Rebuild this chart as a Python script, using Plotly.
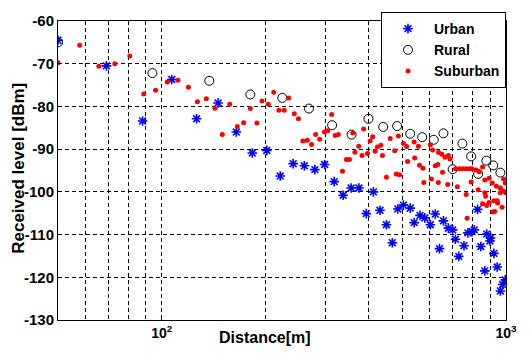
import plotly.graph_objects as go

# ---------------- data ----------------
urban_dist = [50, 69.1, 88, 107, 126.3, 145.8, 164.7, 183.3, 202, 221, 241, 259.6, 278.5,
              297.3, 317, 336.5, 355, 374, 392.8, 412, 430.5, 449.6, 467.6, 485, 503.6,
              527, 541, 562.6, 581, 603, 623, 641, 658, 680, 700, 713, 729, 755, 775, 797,
              809, 827, 845, 868, 879, 898, 902, 922, 943, 963, 978, 995]
urban_level = [-64.5, -70.5, -83.4, -73.7, -82.9, -79.2, -86.0, -90.9, -90.3, -96.3, -93.4,
               -93.9, -94.8, -93.6, -97.6, -100.8, -99.1, -99.1, -105.1, -100.0, -104.3,
               -107.7, -111.9, -104.0, -103.1, -103.8, -107.2, -105.5, -106.1, -107.7,
               -105.2, -113.3, -106.8, -108.5, -108.9, -111.1, -115.1, -112.6, -109.6,
               -109.3, -108.9, -104.1, -112.8, -118.5, -109.9, -111.5, -110.8, -114.4,
               -117.6, -123.2, -121.7, -120.6]

rural_dist = [50, 94, 137.5, 180.9, 224, 267.8, 312.6, 356, 398.6, 440, 483, 527, 571, 617,
              658, 700, 747, 792, 830, 877, 918, 963]
rural_level = [-65.0, -72.2, -74.0, -77.2, -78.0, -80.5, -84.4, -86.6, -82.9, -84.8, -84.6,
               -86.4, -87.2, -87.8, -86.3, -94.7, -88.7, -91.7, -95.8, -92.7, -93.8, -95.5]

suburban_dist = [50, 57.8, 65.7, 73.1, 80.8, 88.7, 96, 103.8, 111.5, 119.6, 127, 134.8, 142.7,
                 150, 157.7, 165.8, 173, 180.9, 189, 195.6, 204, 211.6, 219, 227, 233.7,
                 242.7, 249.6, 257, 264.8, 272.4, 280, 287.6, 297, 303.7, 311.7, 319, 325.8,
                 335, 344, 351, 359, 364, 373.5, 381.8, 386, 396, 403, 410, 416.7, 423, 433,
                 437.8, 449.6, 461, 475, 480, 487, 490.6, 503.6, 514.5, 518, 541, 543, 556.7,
                 561, 574, 577, 603, 607, 612, 623, 634, 636, 637, 651, 654, 665, 677, 680,
                 688, 713, 722, 734, 750, 766, 766, 771, 783, 792, 796, 818, 830, 836, 855,
                 855, 868, 868, 873, 879, 893, 893, 912, 916, 922, 927, 938, 943, 946, 963,
                 963, 974, 984, 984, 995, 1000]
suburban_level = [-69.8, -65.7, -70.6, -70.0, -68.2, -77.1, -76.2, -74.3, -73.9, -75.5, -78.9,
                  -78.2, -80.4, -86.6, -79.5, -84.7, -83.8, -80.5, -83.9, -78.7, -79.5, -76.7,
                  -80.9, -80.9, -78.0, -81.7, -82.9, -88.1, -87.9, -88.9, -86.6, -87.7, -86.0,
                  -85.7, -81.9, -86.8, -86.6, -95.2, -92.4, -92.4, -86.2, -90.7, -89.3, -91.5,
                  -85.3, -91.0, -88.1, -87.1, -90.5, -89.5, -89.1, -91.5, -96.6, -87.5, -90.4,
                  -95.8, -86.9, -96.0, -88.7, -89.4, -92.9, -88.3, -92.1, -89.3, -93.8, -94.5,
                  -97.8, -89.0, -97.0, -90.2, -93.9, -93.6, -97.8, -90.8, -91.2, -95.4, -91.9,
                  -98.3, -91.5, -92.3, -94.6, -98.8, -94.6, -94.6, -94.6, -100.6, -106.2,
                  -94.6, -97.7, -94.6, -94.9, -99.5, -95.3, -94.2, -102.8, -97.2, -100.2,
                  -101.0, -103.2, -96.8, -102.5, -97.9, -104.7, -102.1, -104.6, -98.7, -102.1,
                  -102.6, -99.1, -100.2, -103.6, -99.8, -97.0, -97.9, -100.2]

y_tick_vals = [-130, -120, -110, -100, -90, -80, -70, -60]
y_tick_text = ["-130", "-120", "-110", "-100", "-90", "-80", "-70", "-60"]
x_tick_vals = [100, 1000]
x_tick_text = ["10<sup>2</sup>", "10<sup>3</sup>"]
x_minor_vals = [60, 70, 80, 90, 200, 300, 400, 500, 600, 700, 800, 900]

FONT = "Liberation Sans, Arial, sans-serif"

fig = go.Figure()
fig.add_trace(go.Scatter(
    x=urban_dist, y=urban_level, mode="markers", name="Urban",
    marker=dict(symbol="asterisk-open", size=8, color="blue",
                line=dict(color="blue", width=1.6))))
fig.add_trace(go.Scatter(
    x=rural_dist, y=rural_level, mode="markers", name="Rural",
    marker=dict(symbol="circle-open", size=9, color="black",
                line=dict(color="black", width=1))))
fig.add_trace(go.Scatter(
    x=suburban_dist, y=suburban_level, mode="markers", name="Suburban",
    marker=dict(symbol="circle", size=5, color="red", line=dict(width=0))))

grid = dict(showgrid=True, gridcolor="black", gridwidth=1, griddash="4px,3px")

fig.update_xaxes(
    type="log", range=[1.69897, 3], tickmode="array", tickvals=x_tick_vals,
    ticktext=x_tick_text, ticks="inside", ticklen=4, tickcolor="black",
    tickfont=dict(family=FONT, size=14, color="black", weight="bold"),
    showline=True, linecolor="black", linewidth=1, mirror=True, zeroline=False,
    minor=dict(tickmode="array", tickvals=x_minor_vals, ticks="", **grid),
    **grid)
fig.update_yaxes(
    range=[-130, -60], tickmode="array", tickvals=y_tick_vals, ticktext=y_tick_text,
    ticks="inside", ticklen=4, tickcolor="black",
    tickfont=dict(family=FONT, size=15, color="black", weight="bold"),
    showline=True, linecolor="black", linewidth=1, mirror=True, zeroline=False,
    **grid)

fig.add_annotation(text="Distance[m]", xref="paper", yref="paper", x=0.461, y=-0.059,
                   xanchor="center", yanchor="middle", showarrow=False,
                   font=dict(family=FONT, size=16, color="black", weight="bold"))
fig.add_annotation(text="Received level [dBm]", xref="paper", yref="paper", x=-0.09,
                   y=0.508, xanchor="center", yanchor="middle", showarrow=False,
                   textangle=-90,
                   font=dict(family=FONT, size=17, color="black", weight="bold"))

fig.update_layout(
    width=529, height=353,
    margin=dict(l=58, r=13, t=12, b=31),
    paper_bgcolor="white", plot_bgcolor="white",
    showlegend=True,
    legend=dict(x=1, y=1.03, xanchor="right", yanchor="top", bgcolor="white",
                bordercolor="black", borderwidth=1, itemwidth=42,
                font=dict(family=FONT, size=14, color="black", weight="bold"),
                tracegroupgap=0),
)

fig.write_html("out.html")
